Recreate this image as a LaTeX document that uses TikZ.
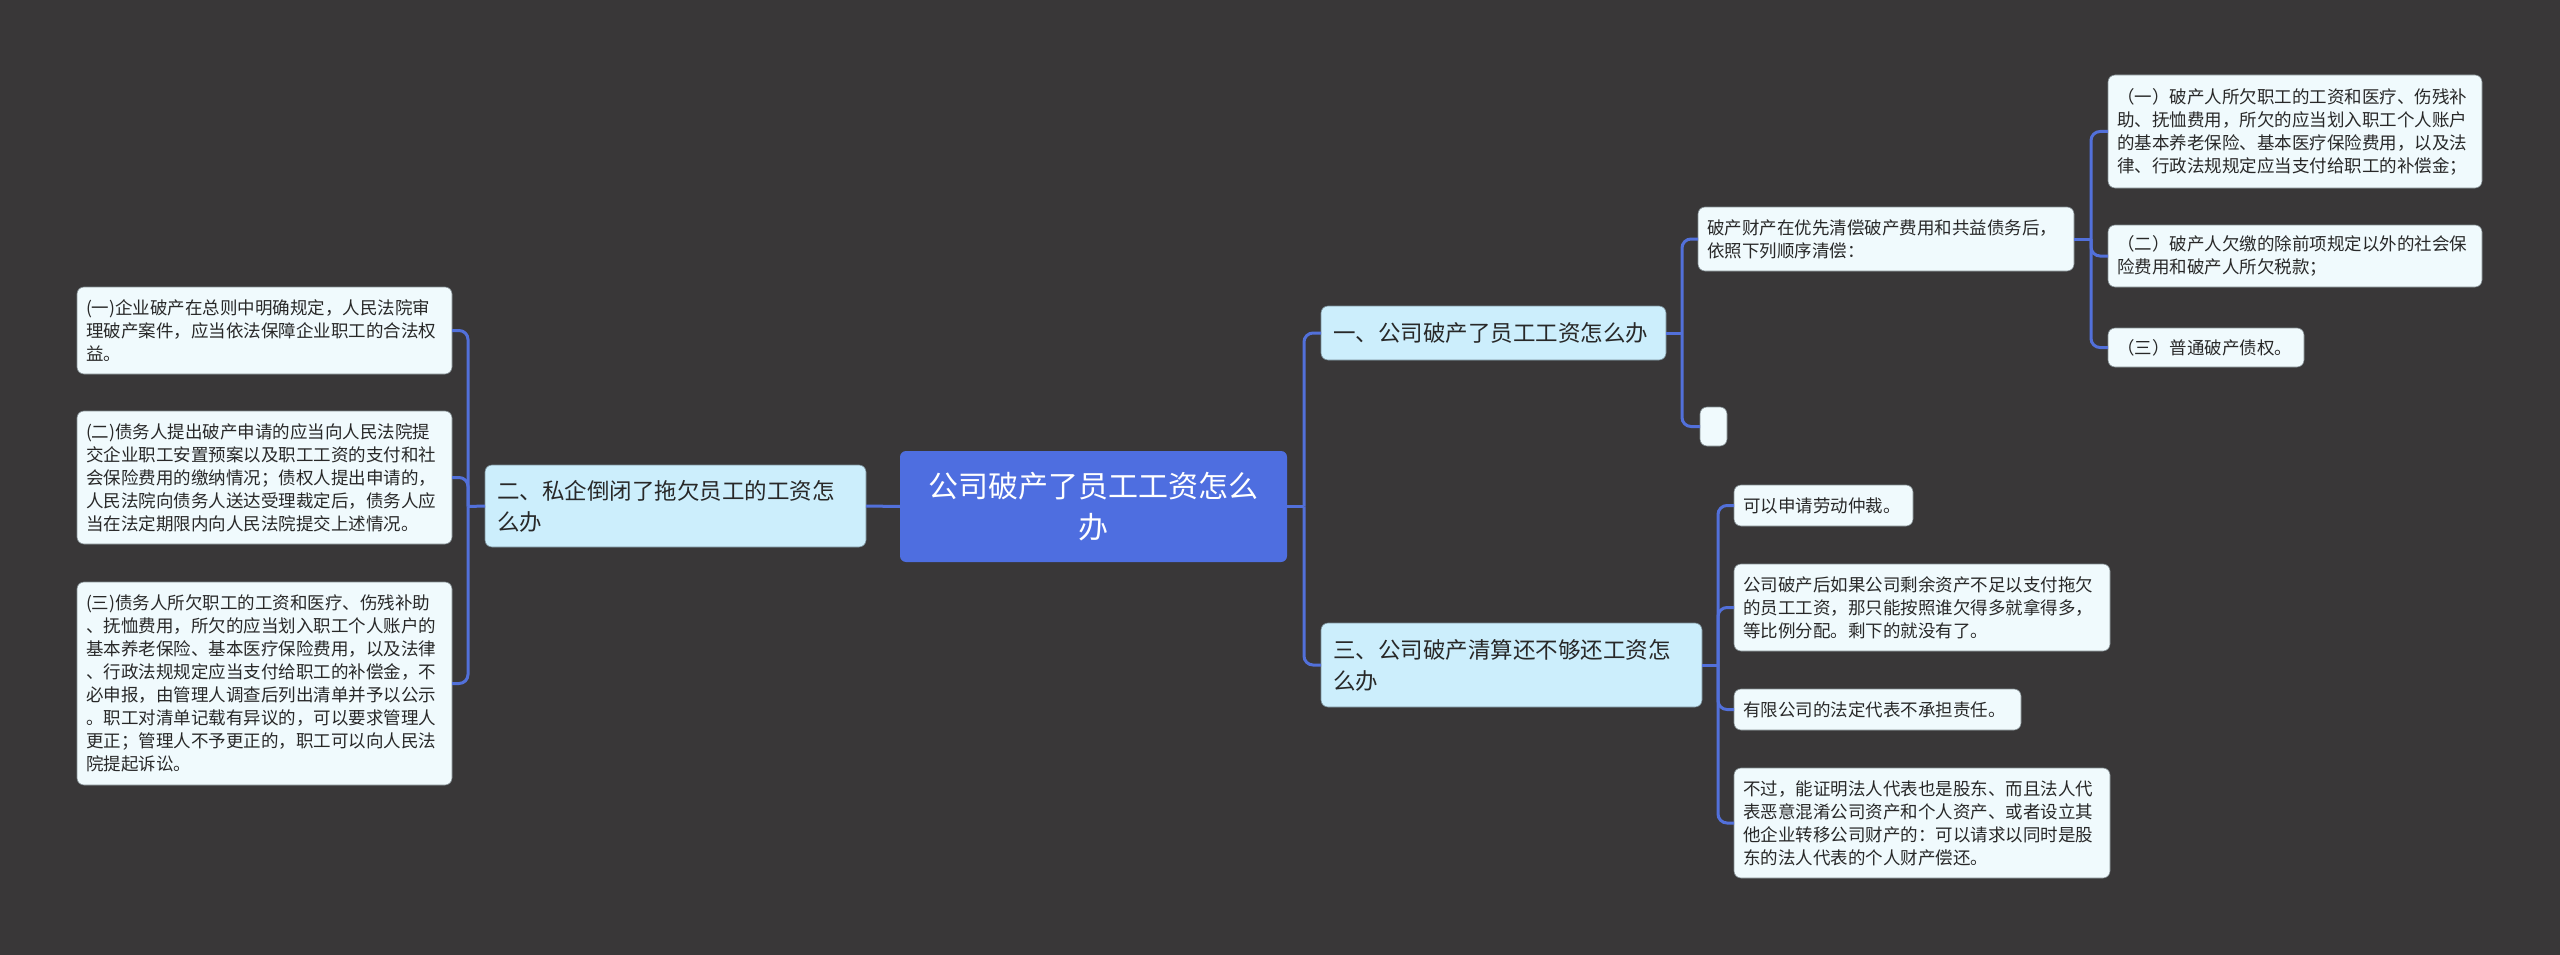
\documentclass[tikz,border=0pt]{standalone}
\usepackage{fontspec}
\newfontfamily\cjk{Noto Sans CJK SC}
\definecolor{bg}{RGB}{57,55,56}
\definecolor{rootc}{RGB}{78,110,224}
\definecolor{branchc}{RGB}{204,238,252}
\definecolor{branchedge}{RGB}{120,140,150}
\definecolor{leafc}{RGB}{240,250,253}
\definecolor{leafedge}{RGB}{130,140,145}
\definecolor{linec}{RGB}{82,112,218}
\definecolor{txt}{RGB}{40,40,40}
\begin{document}
\begin{tikzpicture}[x=1pt,y=-1pt,
 conn/.style={draw=linec, line width=3pt, rounded corners=9pt},
 box/.style={rounded corners=7pt, inner xsep=9pt, inner ysep=0pt, outer sep=0pt, align=left},
 leaf/.style={box, fill=leafc, draw=leafedge, line width=0.6pt, text=txt, font=\cjk\fontsize{17.5}{23}\selectfont},
 branch/.style={box, fill=branchc, draw=branchedge, line width=0.6pt, inner xsep=12pt, text=txt, font=\cjk\fontsize{22.5}{31}\selectfont},
 rootbox/.style={box, rounded corners=6pt, fill=rootc, draw=none, text=white, align=center, font=\cjk\fontsize{30}{41}\selectfont}]
\useasboundingbox (0,0) rectangle (2560,955);
\fill[bg] (0,0) rectangle (2560,955);

% root
\node[rootbox, minimum width=387pt, minimum height=111pt, text width=360pt] (root) at (1093.5,506.5) {公司破产了员工工资怎么\\办};

% branches
\node[branch, minimum width=345pt, minimum height=54pt, text width=321pt] (b1) at (1493.5,333) {一、公司破产了员工工资怎么办};
\node[branch, minimum width=381pt, minimum height=82pt, text width=357pt] (b2) at (675.5,506) {二、私企倒闭了拖欠员工的工资怎\\么办};
\node[branch, minimum width=381pt, minimum height=84pt, text width=357pt] (b3) at (1511.5,665) {三、公司破产清算还不够还工资怎\\么办};

% branch 1 children
\node[leaf, minimum width=376pt, minimum height=64pt, text width=358pt] (s1) at (1886,239) {破产财产在优先清偿破产费用和共益债务后，\\依照下列顺序清偿：};
\node[leaf, minimum width=27pt, minimum height=39pt, text width=9pt] (e1) at (1713.5,426.5) {};
\node[leaf, minimum width=374pt, minimum height=113pt, text width=356pt] (r1) at (2295,131.5) {（一）破产人所欠职工的工资和医疗、伤残补\\助、抚恤费用，所欠的应当划入职工个人账户\\的基本养老保险、基本医疗保险费用，以及法\\律、行政法规规定应当支付给职工的补偿金；};
\node[leaf, minimum width=374pt, minimum height=62pt, text width=356pt] (r2) at (2295,256) {（二）破产人欠缴的除前项规定以外的社会保\\险费用和破产人所欠税款；};
\node[leaf, minimum width=196pt, minimum height=39pt, text width=178pt] (r3) at (2206,347.5) {（三）普通破产债权。};

% branch 3 children
\node[leaf, minimum width=179pt, minimum height=41pt, text width=161pt] (c1) at (1823.5,505.5) {可以申请劳动仲裁。};
\node[leaf, minimum width=376pt, minimum height=87pt, text width=358pt] (c2) at (1922,607.5) {公司破产后如果公司剩余资产不足以支付拖欠\\的员工工资，那只能按照谁欠得多就拿得多，\\等比例分配。剩下的就没有了。};
\node[leaf, minimum width=287pt, minimum height=41pt, text width=269pt] (c3) at (1877.5,709.5) {有限公司的法定代表不承担责任。};
\node[leaf, minimum width=376pt, minimum height=110pt, text width=358pt] (c4) at (1922,823) {不过，能证明法人代表也是股东、而且法人代\\表恶意混淆公司资产和个人资产、或者设立其\\他企业转移公司财产的：可以请求以同时是股\\东的法人代表的个人财产偿还。};

% branch 2 children
\node[leaf, minimum width=375pt, minimum height=87pt, text width=357pt] (l1) at (264.5,330.5) {(一)企业破产在总则中明确规定，人民法院审\\理破产案件，应当依法保障企业职工的合法权\\益。};
\node[leaf, minimum width=375pt, minimum height=133pt, text width=357pt] (l2) at (264.5,477.5) {(二)债务人提出破产申请的应当向人民法院提\\交企业职工安置预案以及职工工资的支付和社\\会保险费用的缴纳情况；债权人提出申请的，\\人民法院向债务人送达受理裁定后，债务人应\\当在法定期限内向人民法院提交上述情况。};
\node[leaf, minimum width=375pt, minimum height=203pt, text width=357pt] (l3) at (264.5,683.5) {(三)债务人所欠职工的工资和医疗、伤残补助\\、抚恤费用，所欠的应当划入职工个人账户的\\基本养老保险、基本医疗保险费用，以及法律\\、行政法规规定应当支付给职工的补偿金，不\\必申报，由管理人调查后列出清单并予以公示\\。职工对清单记载有异议的，可以要求管理人\\更正；管理人不予更正的，职工可以向人民法\\院提起诉讼。};

% trunk coordinates
\coordinate (tr) at (1304,506.5);
\coordinate (tl) at (468,506.5);
\coordinate (t1) at (1682,333);
\coordinate (ts) at (2091,239);
\coordinate (t3) at (1718,665);

% connectors
\draw[conn] (root.east) -- (tr);
\draw[conn] (tr) |- (b1.west);
\draw[conn] (tr) |- (b3.west);
\draw[conn] (root.west) -- (b2.east);
\draw[conn] (b2.west) -- (tl);
\draw[conn] (tl) |- (l1.east);
\draw[conn] (tl) |- (l2.east);
\draw[conn] (tl) |- (l3.east);
\draw[conn] (b1.east) -- (t1);
\draw[conn] (t1) |- (s1.west);
\draw[conn] (t1) |- (e1.west);
\draw[conn] (s1.east) -- (ts);
\draw[conn] (ts) |- (r1.west);
\draw[conn] (ts) |- (r2.west);
\draw[conn] (ts) |- (r3.west);
\draw[conn] (b3.east) -- (t3);
\draw[conn] (t3) |- (c1.west);
\draw[conn] (t3) |- (c2.west);
\draw[conn] (t3) |- (c3.west);
\draw[conn] (t3) |- (c4.west);
\end{tikzpicture}
\end{document}
